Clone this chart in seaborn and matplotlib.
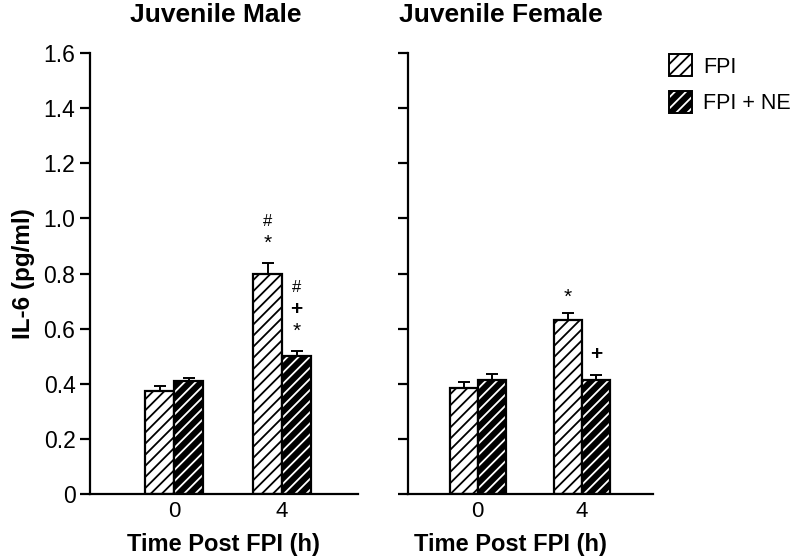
import matplotlib
matplotlib.use("Agg")
import matplotlib.pyplot as plt
from matplotlib.patches import Patch, Rectangle
from matplotlib.legend_handler import HandlerTuple
import numpy as np
import pandas as pd
import seaborn as sns

# data
times = ["0", "4"]
groups = ["FPI", "FPI + NE"]
male_fpi = [0.375, 0.80]
male_fpi_sem = [0.015, 0.04]
male_ne = [0.41, 0.50]
male_ne_sem = [0.01, 0.02]
female_fpi = [0.385, 0.63]
female_fpi_sem = [0.022, 0.027]
female_ne = [0.415, 0.415]
female_ne_sem = [0.02, 0.017]
ytick_vals = [0, 0.2, 0.4, 0.6, 0.8, 1.0, 1.2, 1.4, 1.6]
ytick_labels = ["0", "0.2", "0.4", "0.6", "0.8", "1.0", "1.2", "1.4", "1.6"]
# significance marks: (time index, group index, y, text, size)
male_marks = [(1, 0, 0.99, "#", 12), (1, 0, 0.91, "*", 15),
              (1, 1, 0.75, "#", 12), (1, 1, 0.67, "+", 15), (1, 1, 0.59, "*", 15)]
female_marks = [(1, 0, 0.715, "*", 15), (1, 1, 0.505, "+", 15)]

sns.set_style("ticks")
plt.rcParams["font.family"] = ["Liberation Sans", "DejaVu Sans"]
plt.rcParams["hatch.linewidth"] = 1.3
for k in ["text.color", "axes.labelcolor", "xtick.color", "ytick.color", "axes.edgecolor"]:
    plt.rcParams[k] = "black"


def make_df(fpi, ne):
    rows = []
    for i, t in enumerate(times):
        rows.append({"time": t, "group": groups[0], "value": fpi[i]})
        rows.append({"time": t, "group": groups[1], "value": ne[i]})
    return pd.DataFrame(rows)


def draw_panel(ax, fpi, fpi_sem, ne, ne_sem, marks, xlim):
    df = make_df(fpi, ne)
    sns.barplot(data=df, x="time", y="value", hue="group", order=times,
                hue_order=groups, palette={"FPI": "white", "FPI + NE": "black"},
                width=0.54, errorbar=None, legend=False, ax=ax)
    sems = [fpi_sem, ne_sem]
    centers = []
    bar_sets = list(ax.containers)
    for gi, cont in enumerate(bar_sets):
        xs = []
        for bar in cont.patches:
            if gi == 0:
                bar.set_facecolor("white")
                bar.set_edgecolor("black")
                bar.set_hatch("///")
                bar.set_linewidth(1.6)
            else:
                # white hatch on black: hatch takes the edge colour, so outline separately
                bar.set_facecolor("black")
                bar.set_edgecolor("white")
                bar.set_hatch("///")
                bar.set_linewidth(0)
                ax.add_patch(Rectangle((bar.get_x(), bar.get_y()), bar.get_width(),
                                       bar.get_height(), fill=False,
                                       edgecolor="black", linewidth=1.6, zorder=3))
            xs.append(bar.get_x() + bar.get_width() / 2)
        vals = [b.get_height() for b in cont.patches]
        ax.errorbar(xs, vals, yerr=[np.zeros(len(vals)), sems[gi]], fmt="none",
                    ecolor="black", elinewidth=1.4, capsize=4.5, capthick=1.4, zorder=4)
        centers.append(xs)
    for ti, gi, y, txt, size in marks:
        weight = "bold" if txt == "+" else "normal"
        ax.text(centers[gi][ti], y, txt, ha="center", va="center",
                fontsize=size, fontweight=weight)
    ax.set_xlim(*xlim)
    ax.set_ylim(0, 1.6)
    ax.set_yticks(ytick_vals)
    ax.tick_params(axis="x", length=0, labelsize=16, pad=5)
    ax.tick_params(axis="y", length=7, width=1.6, labelsize=16.5)
    for s in ["left", "bottom"]:
        ax.spines[s].set_linewidth(1.6)
    sns.despine(ax=ax)
    ax.set_xlabel("Time Post FPI (h)", fontsize=17, fontweight="bold")
    ax.set_ylabel("")


fig = plt.figure(figsize=(7.92, 5.6), dpi=100)
ax1 = fig.add_axes([0.1136, 0.118, 0.338, 0.787])
ax2 = fig.add_axes([0.515, 0.118, 0.3095, 0.787])

draw_panel(ax1, male_fpi, male_fpi_sem, male_ne, male_ne_sem, male_marks, (-0.78, 1.70))
draw_panel(ax2, female_fpi, female_fpi_sem, female_ne, female_ne_sem, female_marks, (-0.67, 1.68))

ax1.set_yticklabels(ytick_labels)
ax2.set_yticklabels([])
ax1.set_ylabel("IL-6 (pg/ml)", fontsize=17.5, fontweight="bold")
ax1.yaxis.set_label_coords(-0.205, 0.5)
ax1.xaxis.set_label_coords(0.5, -0.088)
ax2.xaxis.set_label_coords(0.42, -0.088)

fig.text(0.273, 0.96, "Juvenile Male", ha="center", va="baseline",
         fontsize=19, fontweight="bold")
fig.text(0.633, 0.96, "Juvenile Female", ha="center", va="baseline",
         fontsize=19, fontweight="bold")

h_fpi = Patch(facecolor="white", edgecolor="black", hatch="///", linewidth=1.4)
h_ne = (Patch(facecolor="black", edgecolor="white", hatch="///", linewidth=0),
        Patch(facecolor="none", edgecolor="black", linewidth=1.4))
fig.legend([h_fpi, h_ne], groups, handler_map={tuple: HandlerTuple(ndivide=1, pad=0)},
           loc="upper left", bbox_to_anchor=(0.8447, 0.903), frameon=False,
           fontsize=15.5, handlelength=1.07, handleheight=1.2, handletextpad=0.5,
           labelspacing=0.6, borderpad=0, borderaxespad=0)

fig.savefig("out.png", dpi=100)
